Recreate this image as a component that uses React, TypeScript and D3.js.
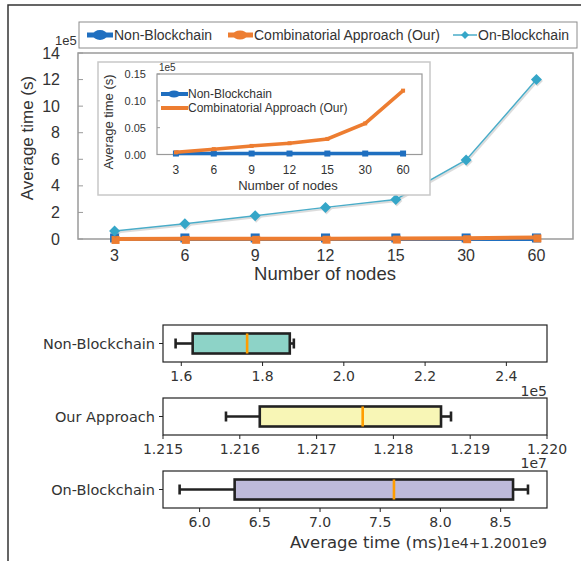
import React from "react";
import * as d3 from "d3";

// top chart: average time (s), in units of 1e5
const nodes = ["3", "6", "9", "12", "15", "30", "60"];
const nonBlockchain = [0.0018, 0.0018, 0.0018, 0.0018, 0.0018, 0.0018, 0.0018];
const combinatorial = [0.004, 0.01, 0.016, 0.021, 0.029, 0.058, 0.119];
const onBlockchain = [0.6, 1.15, 1.75, 2.38, 2.98, 5.95, 12.0];
const mainYTicks = [0, 2, 4, 6, 8, 10, 12, 14];
const insetYTicks = [0, 0.05, 0.1, 0.15];
const seriesNames = ["Non-Blockchain", "Combinatorial Approach (Our)", "On-Blockchain"];

// box plots: [whisker low, q1, median, q3, whisker high], in offset units
const boxNames = ["Non-Blockchain", "Our Approach", "On-Blockchain"];
const nonBlockchainBox = [1.586, 1.628, 1.762, 1.867, 1.877];
const ourApproachBox = [1.21582, 1.21626, 1.2176, 1.21862, 1.21875];
const onBlockchainBox = [5.834, 6.291, 7.614, 8.603, 8.727];
const nonBlockchainTicks = [1.6, 1.8, 2.0, 2.2, 2.4];
const ourApproachTicks = [1.215, 1.216, 1.217, 1.218, 1.219, 1.22];
const onBlockchainTicks = [6.0, 6.5, 7.0, 7.5, 8.0, 8.5];
const nonBlockchainLimits = [1.555, 2.5];
const ourApproachLimits = [1.215, 1.22];
const onBlockchainLimits = [5.696, 8.885];
const boxOffsets = ["1e5", "1e7", "1e4+1.2001e9"];

const BLUE = "#1f6fc0";
const ORANGE = "#ed7d31";
const CYAN = "#4aacc8";
const ARIAL = "'Liberation Sans', Arial, sans-serif";
const DEJAVU = "'DejaVu Sans', sans-serif";

function Square({ x, y, s, color }: any) {
  return <rect x={x - s / 2} y={y - s / 2} width={s} height={s} fill={color} />;
}

function Diamond({ x, y, r, color }: any) {
  return <path d={`M${x},${y - r}L${x + r},${y}L${x},${y + r}L${x - r},${y}Z`} fill={color} />;
}

function MainChart() {
  const x = d3.scalePoint<string>().domain(nodes).range([78, 573]).padding(0.52);
  const y = d3.scaleLinear().domain([0, 14]).range([239, 53]);
  const line = (vals: number[]) =>
    d3.line<number>().x((_, i) => x(nodes[i])!).y((v) => y(v))(vals)!;

  // inset
  const xi = d3.scalePoint<string>().domain(nodes).range([157, 422]).padding(0.5);
  const yi = d3.scaleLinear().domain([0, 0.15]).range([154.5, 74]);
  const lineI = (vals: number[]) =>
    d3.line<number>().x((_, i) => xi(nodes[i])!).y((v) => yi(v))(vals)!;

  return (
    <g fontFamily={ARIAL} fill="#333">
      {/* main axes */}
      <rect x={78} y={53} width={495} height={186} fill="white" stroke="#9a9a9a" strokeWidth={1.5} />
      {mainYTicks.map((t) => (
        <g key={t}>
          <line x1={78} x2={83} y1={y(t)} y2={y(t)} stroke="#9a9a9a" strokeWidth={1} />
          <text x={60} y={y(t) + 5.5} textAnchor="end" fontSize={16}>{t}</text>
        </g>
      ))}
      <text x={55} y={45} fontSize={13}>1e5</text>
      {nodes.map((n) => (
        <text key={n} x={x(n)!} y={261} textAnchor="middle" fontSize={16}>{n}</text>
      ))}
      <text x={325} y={280} textAnchor="middle" fontSize={18.5}>Number of nodes</text>
      <text transform="translate(33,138) rotate(-90)" textAnchor="middle" fontSize={17}>Average time (s)</text>

      {/* series */}
      <path d={line(nonBlockchain)} fill="none" stroke={BLUE} strokeWidth={4} />
      {nonBlockchain.map((v, i) => <Square key={i} x={x(nodes[i])!} y={y(v) - 1} s={9} color={BLUE} />)}
      <path d={line(combinatorial)} fill="none" stroke={ORANGE} strokeWidth={4} />
      {combinatorial.map((v, i) => <Square key={i} x={x(nodes[i])! + 1} y={y(v) + 1} s={8} color={ORANGE} />)}
      <g transform="translate(1,1.5)" opacity={0.25}>
        <path d={line(onBlockchain)} fill="none" stroke="#777" strokeWidth={2} />
        {onBlockchain.map((v, i) => <Diamond key={i} x={x(nodes[i])!} y={y(v)} r={5.5} color="#777" />)}
      </g>
      <path d={line(onBlockchain)} fill="none" stroke={CYAN} strokeWidth={1.5} />
      {onBlockchain.map((v, i) => <Diamond key={i} x={x(nodes[i])!} y={y(v)} r={5.5} color="#35a6c8" />)}

      {/* legend */}
      <rect x={79} y={22} width={498} height={26} fill="white" stroke="#8c8c8c" strokeWidth={1} />
      <line x1={87} x2={113} y1={35} y2={35} stroke={BLUE} strokeWidth={5} />
      <ellipse cx={100} cy={35} rx={7} ry={5} fill={BLUE} />
      <text x={114} y={40} fontSize={14}>{seriesNames[0]}</text>
      <line x1={228} x2={253} y1={35} y2={35} stroke={ORANGE} strokeWidth={5} />
      <ellipse cx={240} cy={35} rx={7} ry={4.5} fill={ORANGE} />
      <text x={254} y={40} fontSize={14}>{seriesNames[1]}</text>
      <line x1={453} x2={477} y1={35} y2={35} stroke={CYAN} strokeWidth={1.5} />
      <Diamond x={465} y={35} r={4} color="#35a6c8" />
      <text x={478} y={40} fontSize={14}>{seriesNames[2]}</text>

      {/* inset */}
      <rect x={98} y={62} width={332} height={133} fill="white" stroke="#c8c8c8" strokeWidth={1.5} />
      <rect x={157} y={74} width={265} height={80.5} fill="white" stroke="#9a9a9a" strokeWidth={1.2} />
      {insetYTicks.map((t) => (
        <g key={t}>
          <line x1={157} x2={160} y1={yi(t)} y2={yi(t)} stroke="#9a9a9a" />
          <text x={146} y={yi(t) + 4} textAnchor="end" fontSize={11}>{t.toFixed(2)}</text>
        </g>
      ))}
      <text x={159} y={71} fontSize={10}>1e5</text>
      {nodes.map((n) => (
        <text key={n} x={xi(n)!} y={174} textAnchor="middle" fontSize={12}>{n}</text>
      ))}
      <text x={288} y={190} textAnchor="middle" fontSize={13}>Number of nodes</text>
      <text transform="translate(113,122) rotate(-90)" textAnchor="middle" fontSize={13}>Average time (s)</text>
      <path d={lineI(nonBlockchain)} fill="none" stroke={BLUE} strokeWidth={3.5} />
      {nonBlockchain.map((v, i) => <Square key={i} x={xi(nodes[i])!} y={yi(v)} s={6} color={BLUE} />)}
      <path d={lineI(combinatorial)} fill="none" stroke={ORANGE} strokeWidth={3.5} />
      {combinatorial.map((v, i) => <Square key={i} x={xi(nodes[i])!} y={yi(v)} s={4} color={ORANGE} />)}
      <line x1={161} x2={188} y1={94} y2={94} stroke={BLUE} strokeWidth={4} />
      <ellipse cx={174} cy={94} rx={6} ry={3.5} fill={BLUE} />
      <text x={188} y={98} fontSize={12}>{seriesNames[0]}</text>
      <line x1={161} x2={188} y1={108} y2={108} stroke={ORANGE} strokeWidth={4} />
      <text x={188} y={112} fontSize={12}>{seriesNames[1]}</text>
    </g>
  );
}

function BoxRow({ top, name, stats, limits, ticks, fmt, fill, offset, offsetY }: any) {
  const h = 37;
  const x = d3.scaleLinear().domain(limits).range([163, 547]);
  const yc = top + h / 2;
  const [lo, q1, med, q3, hi] = stats;
  const ink = "#222";
  return (
    <g fontFamily={DEJAVU} fill="#333">
      <rect x={163} y={top} width={384} height={h} fill="white" stroke={ink} strokeWidth={1.2} />
      <line x1={159} x2={163} y1={yc} y2={yc} stroke={ink} />
      <text x={155} y={yc + 5} textAnchor="end" fontSize={14.5}>{name}</text>
      {ticks.map((t: number) => (
        <g key={t}>
          <line x1={x(t)} x2={x(t)} y1={top + h} y2={top + h + 4} stroke={ink} />
          <text x={x(t)} y={top + h + 19} textAnchor="middle" fontSize={14}>{fmt(t)}</text>
        </g>
      ))}
      <text x={547} y={top + h + offsetY} textAnchor="end" fontSize={14}>{offset}</text>
      <line x1={x(lo)} x2={x(q1)} y1={yc} y2={yc} stroke={ink} strokeWidth={2.6} />
      <line x1={x(q3)} x2={x(hi)} y1={yc} y2={yc} stroke={ink} strokeWidth={2.6} />
      <line x1={x(lo)} x2={x(lo)} y1={yc - 5} y2={yc + 5} stroke={ink} strokeWidth={2.6} />
      <line x1={x(hi)} x2={x(hi)} y1={yc - 5} y2={yc + 5} stroke={ink} strokeWidth={2.6} />
      <rect x={x(q1)} y={yc - 10} width={x(q3) - x(q1)} height={20} fill={fill} stroke={ink} strokeWidth={2.6} />
      <line x1={x(med)} x2={x(med)} y1={yc - 10} y2={yc + 10} stroke="#ff9d00" strokeWidth={2.6} />
    </g>
  );
}

export default function App() {
  return (
    <svg width={581} height={561} style={{ position: "absolute", left: 0, top: 0, background: "white" }}>
      <path d="M8,561L8,5L581,5" fill="none" stroke="#333" strokeWidth={1.5} />
      <MainChart />
      <BoxRow top={325} name={boxNames[0]} stats={nonBlockchainBox} limits={nonBlockchainLimits}
        ticks={nonBlockchainTicks} fmt={(t: number) => t.toFixed(1)} fill="#8dd3c7"
        offset={boxOffsets[0]} offsetY={34} />
      <BoxRow top={398} name={boxNames[1]} stats={ourApproachBox} limits={ourApproachLimits}
        ticks={ourApproachTicks} fmt={(t: number) => t.toFixed(3)} fill="#f8f6b6"
        offset={boxOffsets[1]} offsetY={33} />
      <BoxRow top={471} name={boxNames[2]} stats={onBlockchainBox} limits={onBlockchainLimits}
        ticks={onBlockchainTicks} fmt={(t: number) => t.toFixed(1)} fill="#bebada"
        offset={boxOffsets[2]} offsetY={40} />
      <text x={443} y={548} textAnchor="end" fontSize={16.5} fontFamily={DEJAVU} fill="#333">Average time (ms)</text>
    </svg>
  );
}
